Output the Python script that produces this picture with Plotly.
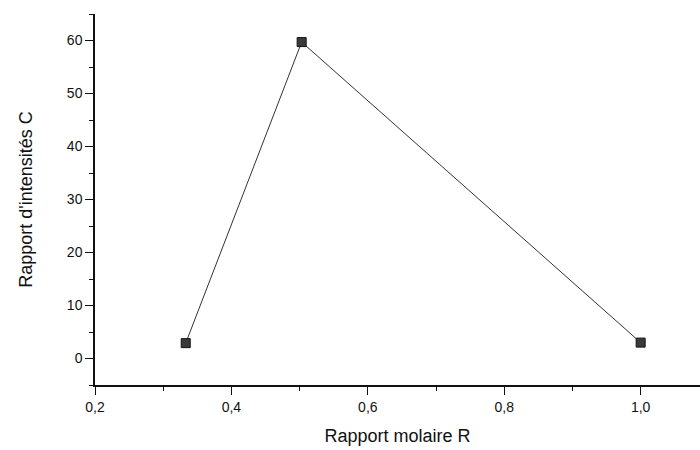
import plotly.graph_objects as go

# Molar ratio R and intensity ratio C
rapport_molaire = [0.333, 0.503, 1.0]
rapport_intensites = [2.9, 59.7, 3.0]

x_ticks = [0.2, 0.4, 0.6, 0.8, 1.0]
y_ticks = [0, 10, 20, 30, 40, 50, 60]

fig = go.Figure()
fig.add_trace(go.Scatter(
    x=rapport_molaire,
    y=rapport_intensites,
    mode="lines+markers",
    line=dict(color="#333333", width=1),
    marker=dict(symbol="square", size=9, color="#3a3a3a",
                line=dict(color="#111111", width=1)),
    showlegend=False,
))

axis_font = dict(family="Liberation Sans, Arial, sans-serif", size=14, color="#111111")
title_font = dict(family="Liberation Sans, Arial, sans-serif", size=18, color="#111111")

fig.update_xaxes(
    range=[0.2, 1.087],
    tickvals=x_ticks,
    tickformat=".1f",
    ticks="outside", ticklen=8, tickwidth=1.2, tickcolor="#111111",
    minor=dict(dtick=0.1, tick0=0.2, ticks="outside", ticklen=4, tickcolor="#111111"),
    showline=True, linecolor="#111111", linewidth=1.5,
    showgrid=False, zeroline=False,
    tickfont=axis_font,
    title=dict(text="Rapport molaire R", font=title_font, standoff=16),
)
fig.update_yaxes(
    range=[-5, 65],
    tickvals=y_ticks,
    ticks="outside", ticklen=8, tickwidth=1.2, tickcolor="#111111",
    minor=dict(dtick=5, tick0=-5, ticks="outside", ticklen=4, tickcolor="#111111"),
    showline=True, linecolor="#111111", linewidth=1.5,
    showgrid=False, zeroline=False,
    tickfont=axis_font,
    title=dict(text="Rapport d'intensités C", font=title_font, standoff=30),
)

fig.update_layout(
    width=700, height=450,
    margin=dict(l=95, r=0, t=14, b=65),
    paper_bgcolor="white", plot_bgcolor="white",
    separators=",.",
)

fig.write_html("out.html")
